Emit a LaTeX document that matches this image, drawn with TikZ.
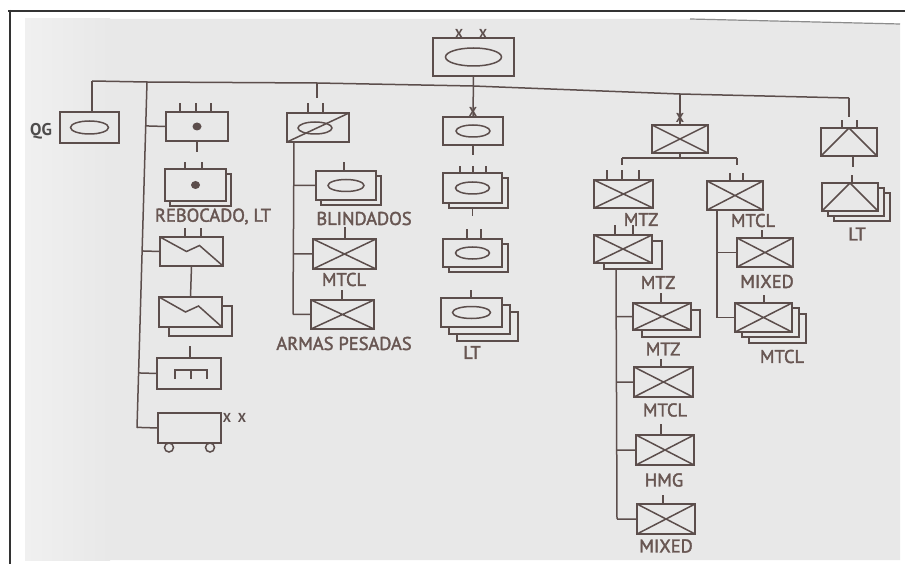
\documentclass[tikz,border=0pt]{standalone}
\usepackage{fontspec}
\newfontfamily\labfont[FakeBold=2]{PT Sans}
\newfontfamily\xfont{PT Sans}
\usetikzlibrary{calc,backgrounds}
\definecolor{page}{RGB}{232,232,232}
\definecolor{lc}{RGB}{92,78,76}
\definecolor{tc}{RGB}{104,86,82}
\definecolor{qgc}{RGB}{78,76,76}
\newcommand\utick[3]{\draw[ln] ([shift={(#2,0)}]#1.north) -- ++(0,-#3);}
\newcommand\ushadow[3]{\draw[ln,fill=page] ([shift={(#2,#3)}]#1.north west) rectangle ([shift={(#2,#3)}]#1.south east);}
\begin{document}
\begin{tikzpicture}[x=1pt,y=-1pt,
  ln/.style={draw=lc,line width=1.5pt,line join=miter},
  unit/.style={ln,fill=page,rectangle,inner sep=0pt,outer sep=0pt},
  sz/.style 2 args={minimum width=#1pt,minimum height=#2pt},
  xbox/.style={unit,path picture={\draw[ln] (path picture bounding box.north west)--(path picture bounding box.south east) (path picture bounding box.south west)--(path picture bounding box.north east);}},
  ovalbox/.style 2 args={unit,path picture={\draw[ln] (path picture bounding box.center) ellipse [x radius=#1pt,y radius=#2pt];}},
  dotbox/.style={unit,path picture={\fill[lc] (path picture bounding box.center) ellipse [x radius=4.5pt,y radius=4pt];}},
  zigbox/.style={unit,path picture={\draw[ln] (path picture bounding box.north west) -- ([shift={(-5,0)}]path picture bounding box.center) -- ([shift={(8,-6)}]path picture bounding box.center) -- (path picture bounding box.south east);}},
  combbox/.style={unit,path picture={\draw[draw=lc,line width=2.6pt] ([shift={(-14,5.5)}]path picture bounding box.center) -- ([shift={(-14,-3.5)}]path picture bounding box.center) -- ([shift={(18,-3.5)}]path picture bounding box.center) -- ([shift={(18,5.5)}]path picture bounding box.center) ([shift={(2,-3.5)}]path picture bounding box.center) -- ([shift={(2,5.5)}]path picture bounding box.center);}},
  slashbox/.style={unit,path picture={\draw[ln] ([shift={(-3,0.5)}]path picture bounding box.center) ellipse [x radius=17pt,y radius=6pt]; \draw[ln] (path picture bounding box.south west) -- (path picture bounding box.north east);}},
  tribox/.style={unit,path picture={\draw[ln] (path picture bounding box.south west) -- (path picture bounding box.north) -- (path picture bounding box.south east);}},
  lab/.style={text=tc,font=\labfont\fontsize{18.5}{18.5}\selectfont,inner sep=0pt},
  xm/.style={text=lc,font=\xfont\bfseries\fontsize{13}{13}\selectfont,inner sep=0pt},
]
\useasboundingbox (0,0) rectangle (905,564);
\begin{scope}[on background layer]
  \fill[white] (0,0) rectangle (905,564);
  \fill[page] (25,19) -- (690,19) -- (900,24) -- (900,560) -- (25,560) -- cycle;
  \shade[left color=white!35!page,right color=page] (25,19) rectangle (110,560);
  \draw[draw=black!45,line width=1.2pt] (690,19) -- (900,24);
  \draw[draw=black!80,line width=2pt] (8,11) -- (905,11);
  \draw[draw=black!80,line width=2pt] (9.5,10) -- (9.5,564);
\end{scope}

% top line
\coordinate (tlA) at (92,81);
\coordinate (tlB) at (147,82);
\coordinate (tlC) at (317,83);
\coordinate (tlD) at (473,86);
\coordinate (tlE) at (680,94);
\coordinate (tlF) at (849,98);
\draw[ln] (tlA) -- (tlB) -- (tlC) -- (tlD) -- (tlE) -- (tlF);

% boxes
\node[ovalbox={28}{9},sz={81}{38}] (HQ) at (473.5,57) {};
\node[ovalbox={19}{6.5},sz={59}{31}] (QG) at (89.5,127.5) {};
\node[dotbox,sz={62}{29}] (A) at (197,126.5) {};
\node[dotbox,sz={61}{32}] (B) at (195.5,185) {};
\node[zigbox,sz={63}{29}] (C) at (191.5,251.5) {};
\node[zigbox,sz={63}{30}] (D) at (190.5,312) {};
\node[combbox,sz={64}{31}] (E) at (189,373.5) {};
\node[unit,sz={63}{30}] (F) at (189.5,428) {};
\node[slashbox,sz={62}{29}] (G) at (318,127.5) {};
\node[ovalbox={18}{6},sz={60}{29}] (H) at (346,185.5) {};
\node[xbox,sz={63}{30}] (I) at (344.5,254) {};
\node[xbox,sz={63}{29}] (J) at (342.5,314.5) {};
\node[ovalbox={17}{6},sz={60}{28}] (K) at (473,131) {};
\node[ovalbox={17}{6},sz={59}{30}] (L) at (472.5,188) {};
\node[ovalbox={17}{6},sz={59}{28}] (M) at (472.5,253) {};
\node[ovalbox={19}{6},sz={61}{29}] (N) at (471.5,312.5) {};
\node[xbox,sz={56}{28}] (O) at (680,139) {};
\node[xbox,sz={59}{28}] (P) at (623.5,194) {};
\node[xbox,sz={56}{29}] (Q) at (735,195.5) {};
\node[xbox,sz={58}{28}] (T) at (623,249) {};
\node[xbox,sz={58}{27}] (U) at (662,316.5) {};
\node[xbox,sz={59}{30}] (V) at (663.5,382) {};
\node[xbox,sz={58}{30}] (W) at (665,450) {};
\node[xbox,sz={58}{30}] (X2) at (666,519) {};
\node[xbox,sz={56}{29}] (R) at (765,252.5) {};
\node[xbox,sz={57}{29}] (S) at (763.5,317.5) {};
\node[tribox,sz={56}{28}] (Y) at (849,142) {};
\node[tribox,sz={56}{28}] (Z) at (850,197) {};

% shadows
\begin{scope}[on background layer]
  \ushadow{B}{5}{5}
  \ushadow{D}{10}{9}
  \ushadow{H}{5}{5}
  \ushadow{L}{6}{5}
  \ushadow{M}{6}{5}
  \ushadow{N}{16}{14}
  \ushadow{N}{8}{7}
  \ushadow{T}{10}{6}
  \ushadow{U}{9}{7}
  \ushadow{S}{14}{11}
  \ushadow{S}{7}{5}
  \ushadow{Z}{12}{10}
  \ushadow{Z}{6}{5}
\end{scope}

% wheels
\draw[ln,fill=page] ([shift={(-20.5,19.5)}]F.center) circle [radius=4.5];
\draw[ln,fill=page] ([shift={(20.5,19.5)}]F.center) circle [radius=4.5];

% ticks
\utick{A}{-17}{9}\utick{A}{-1}{9}\utick{A}{14}{9}
\utick{B}{-10.5}{7}\utick{B}{6.5}{7}
\utick{C}{-6.5}{9}\utick{C}{9.5}{9}
\utick{E}{1}{12}
\utick{G}{-10}{10}\utick{G}{5}{10}
\utick{H}{-2}{9}
\utick{I}{0.5}{12}
\utick{J}{-0.5}{10}
\utick{L}{-12.5}{7}\utick{L}{0.5}{7}\utick{L}{13.5}{7}
\utick{M}{-5.5}{10}\utick{M}{8.5}{10}
\utick{N}{-0.5}{8}
\utick{P}{-16.5}{10}\utick{P}{-1.5}{10}\utick{P}{15.5}{10}
\utick{Q}{-5}{8}\utick{Q}{8}{8}
\utick{T}{-8}{10}\utick{T}{10}{10}
\utick{R}{-3}{8}
\utick{S}{0.5}{8}
\utick{U}{-1}{10}
\utick{V}{-2.5}{8}
\utick{W}{-4}{11}
\utick{X2}{-3}{9}
\utick{Y}{-7}{8}\utick{Y}{8}{8}
\utick{Z}{2}{8}

% bottom stubs
\draw[ln] (A.south) -- ++(0,11);
\draw[ln] (K.south) -- ++(0,10);
\draw[ln] ([shift={(0,6)}]L.south) -- ++(0,7);
\draw[ln] ([shift={(4,0)}]Y.south) -- ++(0,11);

% connectors
\draw[ln] (tlA) -- (tlA |- QG.north);
\draw[ln] (C.south) -- (D.north);
\draw[ln] (HQ.south) -- (K.north);
\draw[ln] (tlC) -- ++(0,15);
\draw[ln] (tlE) -- (O.north);
\draw[ln] (tlF) -- ++(0,19);

% left trunk
\coordinate (lb) at (137,428);
\draw[ln] (tlB) -- (lb);
\foreach \n in {A,C,E,F} \draw[ln] (\n.west) -- ($(tlB)!(\n.west)!(lb)$);

% G trunk
\coordinate (gt) at ([shift={(7,0)}]G.south west);
\coordinate (gb) at (293,314.5);
\draw[ln] (gt) -- (gb);
\foreach \n in {H,I,J} \draw[ln] (\n.west) -- ($(gt)!(\n.west)!(gb)$);

% O bar
\coordinate (barL) at (622,158);
\coordinate (barR) at (737,158);
\draw[ln] (O.south) -- (O.south |- barL);
\draw[ln] (barL) -- (barR);
\draw[ln] (barL) -- ++(0,7);
\draw[ln] (barR) -- ++(0,7);

% Q trunk
\coordinate (qt) at ([shift={(10,0)}]Q.south west);
\coordinate (qb) at (717,317.5);
\draw[ln] (qt) -- (qb);
\foreach \n in {R,S} \draw[ln] (\n.west) -- ($(qt)!(\n.west)!(qb)$);

% T trunk
\coordinate (tt) at (616,269);
\coordinate (tb) at (617,519);
\draw[ln] (tt) -- (tb);
\foreach \n in {U,V,W,X2} \draw[ln] (\n.west) -- ($(tt)!(\n.west)!(tb)$);

% echelon marks
\node[xm] (x1) at (459,34) {X};
\node[xm] (x2) at (483,34) {X};
\node[xm] (x3) at (473,112) {X};
\node[xm] (x4) at (680,118) {X};
\node[xm] (x5) at (227,418) {X};
\node[xm] (x6) at (242,418) {X};

% labels
\node[font=\xfont\bfseries\fontsize{17}{17}\selectfont,text=qgc,inner sep=0pt] (lqg) at (41,131) {QG};
\node[lab] (l1) at (213,216.5) {REBOCADO, LT};
\node[lab] (l2) at (364,218.5) {BLINDADOS};
\node[lab] (l3) at (344,279.5) {MTCL};
\node[lab] (l4) at (344,343.5) {ARMAS PESADAS};
\node[lab] (l5) at (472,352.5) {LT};
\node[lab] (l6) at (641,219.5) {MTZ};
\node[lab] (l7) at (753,220.5) {MTCL};
\node[lab] (l8) at (658,282.5) {MTZ};
\node[lab] (l9) at (767,281.5) {MIXED};
\node[lab] (l10) at (663,349) {MTZ};
\node[lab] (l11) at (782,356.5) {MTCL};
\node[lab] (l12) at (665,410) {MTCL};
\node[lab] (l13) at (664,480) {HMG};
\node[lab] (l14) at (666,546) {MIXED};
\node[lab] (l15) at (857,234) {LT};
\end{tikzpicture}
\end{document}
